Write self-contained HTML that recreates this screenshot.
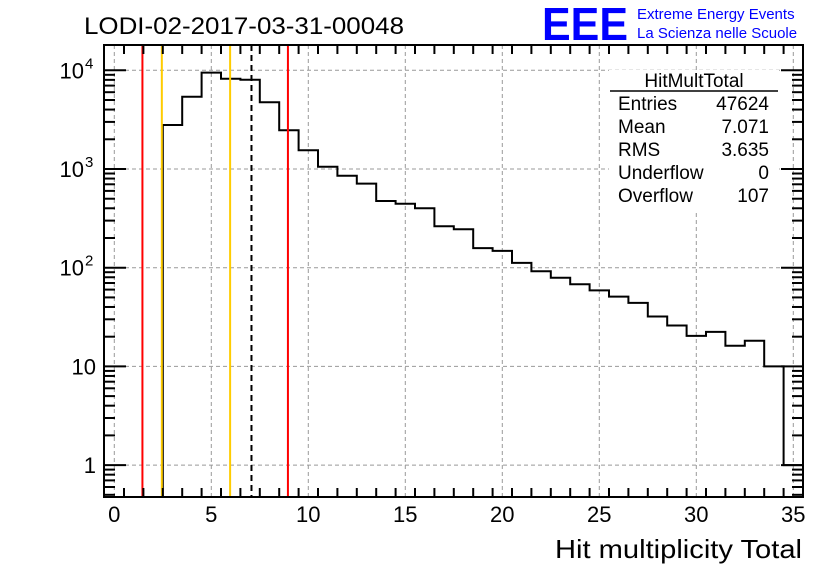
<!DOCTYPE html>
<html><head><meta charset="utf-8"><style>
body{margin:0;background:#fff;}
svg text{font-family:"Liberation Sans",sans-serif;}
</style></head><body>
<svg width="836" height="572" xmlns="http://www.w3.org/2000/svg">
<rect width="836" height="572" fill="#fff"/>
<text x="84" y="34" font-size="24" textLength="320" lengthAdjust="spacingAndGlyphs">LODI-02-2017-03-31-00048</text>
<text x="542" y="40" font-size="46" font-weight="bold" fill="#0000ff" textLength="86" lengthAdjust="spacingAndGlyphs">EEE</text>
<text x="637" y="19" font-size="15" fill="#0000ff">Extreme Energy Events</text>
<text x="637" y="38" font-size="15" fill="#0000ff">La Scienza nelle Scuole</text>
<g id="grid"></g>
<g id="marks"></g>
<g id="axes"></g>
<g font-size="19">
<rect x="609" y="70" width="170" height="140" fill="#fff"/>
<text x="694" y="87" text-anchor="middle">HitMultTotal</text>
<line x1="610" y1="91" x2="778" y2="91" stroke="#000" stroke-width="1.5"/>
<text x="618" y="110">Entries</text><text x="769" y="110" text-anchor="end">47624</text>
<text x="618" y="133">Mean</text><text x="769" y="133" text-anchor="end">7.071</text>
<text x="618" y="156">RMS</text><text x="769" y="156" text-anchor="end">3.635</text>
<text x="618" y="179">Underflow</text><text x="769" y="179" text-anchor="end">0</text>
<text x="618" y="202">Overflow</text><text x="769" y="202" text-anchor="end">107</text>
</g>
<text x="802" y="558" font-size="26" text-anchor="end" textLength="247" lengthAdjust="spacingAndGlyphs">Hit multiplicity Total</text>
</svg>
<script>
const binCenters=[3,4,5,6,7,8,9,10,11,12,13,14,15,16,17,18,19,20,21,22,23,24,25,26,27,28,29,30,31,32,33,34,35];
const counts=[2790,5400,9460,8220,8030,4740,2470,1550,1055,855,710,474,445,400,263,245,158,148,112,92,79,68,59,51,44,32,26,20.4,22.4,16.2,18.2,10,1];
const xTicks=[0,5,10,15,20,25,30,35];
const yTickVals=[1,10,100,1000,10000];
const yTickBase=["1","10","10","10","10"];
const yTickExp=["","","2","3","4"];
const redLines=[1.45,8.95];
const orangeLines=[2.45,5.97];
const meanLine=[7.071];
const NS="http://www.w3.org/2000/svg";
const L=104,R=803,T=45,B=497;
const xs=v=>114.3+(v)*19.4;
const ys=v=>70.3-(Math.log10(v)-4)*98.7;
function mk(t,a,p){const e=document.createElementNS(NS,t);for(const k in a)e.setAttribute(k,a[k]);p.appendChild(e);return e;}
const grid=document.getElementById('grid'),marks=document.getElementById('marks'),axes=document.getElementById('axes');
xTicks.forEach(v=>{const g=mk('line',{x1:xs(v),x2:xs(v),y1:T,y2:B,stroke:'#999','stroke-dasharray':'4,3'},grid);

});
yTickVals.forEach(v=>{const g=mk('line',{x1:L,x2:R,y1:ys(v),y2:ys(v),stroke:'#999','stroke-dasharray':'4,3'},grid);

});
let d='';
binCenters.forEach((c,i)=>{const x0=xs(c-0.5),x1=xs(c+0.5),y=ys(counts[i]);
d+=(i===0?`M${x0},${B}`:'')+`L${x0},${y}L${x1},${y}`;});
const h=mk('path',{d:d,fill:'none',stroke:'#000','stroke-width':2},marks);


function vline(v,col,dash,name){const e=mk('line',{x1:xs(v),x2:xs(v),y1:T,y2:B,stroke:col,'stroke-width':2},marks);
if(dash)e.setAttribute('stroke-dasharray',dash);

}
redLines.forEach(v=>vline(v,'#ff0000',null,'red-marker-line'));
orangeLines.forEach(v=>vline(v,'#ffcc00',null,'orange-marker-line'));
meanLine.forEach(v=>vline(v,'#000','6,4','mean-line'));
const fr=mk('rect',{x:L,y:T,width:R-L,height:B-T,fill:'none',stroke:'#000','stroke-width':2},axes);


for(let v=-0.5;v<=35.5;v+=1){const major=Math.abs(v%5)<1e-9;if(v<0)continue;
const len=major?18:9;
mk('line',{x1:xs(v),x2:xs(v),y1:B,y2:B-len,stroke:'#000','stroke-width':2},axes);
mk('line',{x1:xs(v),x2:xs(v),y1:T,y2:T+len,stroke:'#000','stroke-width':2},axes);}
xTicks.forEach(v=>{const t=mk('text',{x:xs(v),y:522,'font-size':22,'text-anchor':'middle'},axes);t.textContent=v;

});
for(let e=-1;e<=4;e++)for(let m=1;m<10;m++){const v=m*Math.pow(10,e);const y=ys(v);if(y<T||y>B)continue;
const len=m===1?22:11;
mk('line',{x1:L,x2:L+len,y1:y,y2:y,stroke:'#000','stroke-width':2},axes);
mk('line',{x1:R,x2:R-len,y1:y,y2:y,stroke:'#000','stroke-width':2},axes);}
yTickVals.forEach((v,i)=>{const t=mk('text',{x:yTickExp[i]?84:96,y:ys(v)+8,'font-size':22,'text-anchor':'end'},axes);t.textContent=yTickBase[i];


if(yTickExp[i]){const s=mk('text',{x:85,y:ys(v)-2,'font-size':15},axes);s.textContent=yTickExp[i];

}});
</script>
</body></html>
